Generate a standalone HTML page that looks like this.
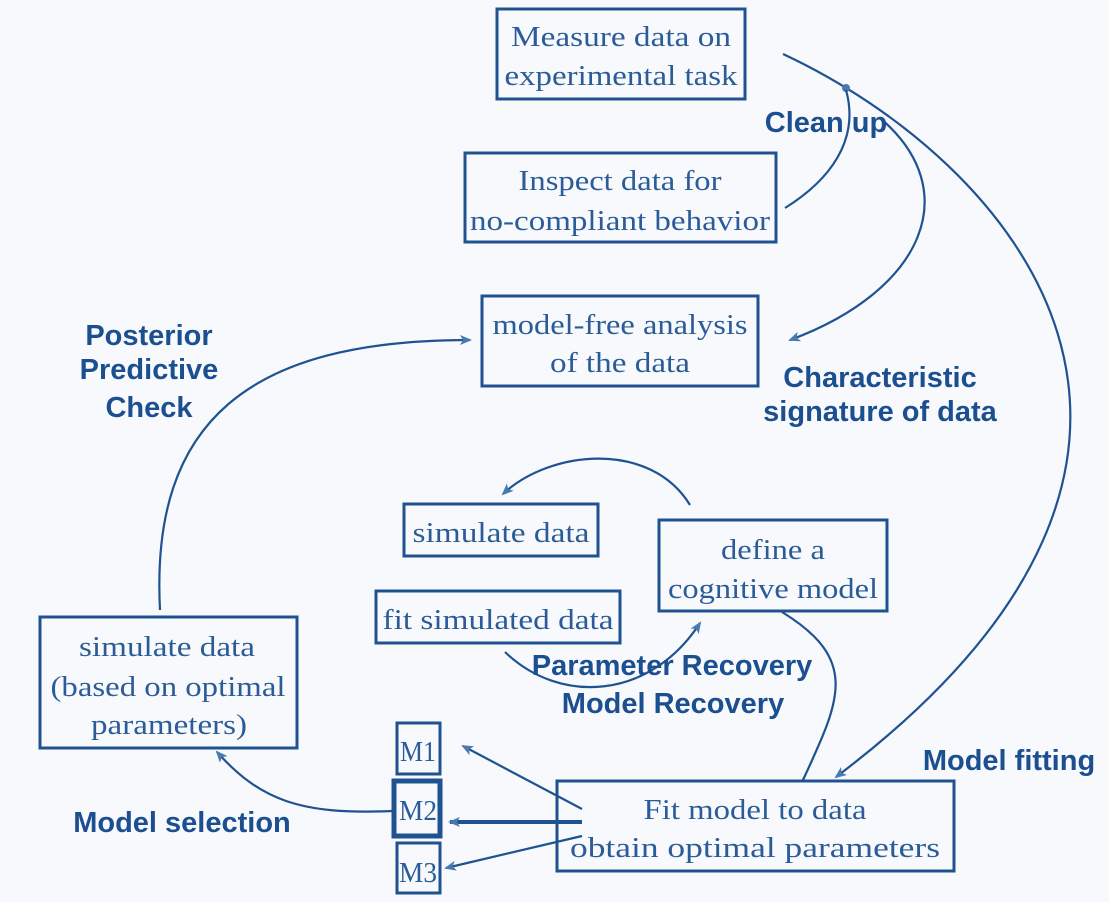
<!DOCTYPE html>
<html><head><meta charset="utf-8"><style>
html,body{margin:0;padding:0;background:#f7f9fc;}
svg{display:block}
.s{font-family:"Liberation Serif",serif;font-size:29px;fill:#2b5c98;text-anchor:middle}
.b{font-family:"Liberation Sans",sans-serif;font-size:29px;font-weight:bold;fill:#1b4f8f;text-anchor:middle}
rect{fill:none;stroke:#1f5291;stroke-width:3}
path.c{fill:none;stroke:#1f5291;stroke-width:2.2}
</style></head><body>
<svg width="1109" height="902" viewBox="0 0 1109 902">
<defs><marker id="a" markerWidth="12" markerHeight="10" refX="10" refY="5" orient="auto" markerUnits="userSpaceOnUse"><path d="M0,0 L12,5 L0,10 L3,5z" fill="#4a78b0"/></marker></defs>
<rect x="497" y="9" width="248" height="90"/>
<text class="s" x="621" y="46" textLength="220" lengthAdjust="spacingAndGlyphs">Measure data on</text><text class="s" x="621" y="85" textLength="233" lengthAdjust="spacingAndGlyphs">experimental task</text>
<rect x="465" y="153" width="311" height="89"/>
<text class="s" x="620" y="190" textLength="203" lengthAdjust="spacingAndGlyphs">Inspect data for</text><text class="s" x="620" y="230" textLength="300" lengthAdjust="spacingAndGlyphs">no-compliant behavior</text>
<rect x="482" y="296" width="276" height="90"/>
<text class="s" x="620" y="334" textLength="255" lengthAdjust="spacingAndGlyphs">model-free analysis</text><text class="s" x="620" y="372" textLength="140" lengthAdjust="spacingAndGlyphs">of the data</text>
<rect x="404" y="504" width="194" height="52"/>
<text class="s" x="501" y="542" textLength="177" lengthAdjust="spacingAndGlyphs">simulate data</text>
<rect x="659" y="520" width="228" height="91"/>
<text class="s" x="773" y="559" textLength="104" lengthAdjust="spacingAndGlyphs">define a</text><text class="s" x="773" y="598" textLength="210" lengthAdjust="spacingAndGlyphs">cognitive model</text>
<rect x="376" y="591" width="244" height="52"/>
<text class="s" x="498" y="629" textLength="231" lengthAdjust="spacingAndGlyphs">fit simulated data</text>
<rect x="40" y="617" width="257" height="131"/>
<text class="s" x="167" y="656" textLength="176" lengthAdjust="spacingAndGlyphs">simulate data</text><text class="s" x="168" y="696" textLength="235" lengthAdjust="spacingAndGlyphs">(based on optimal</text><text class="s" x="169" y="734" textLength="156" lengthAdjust="spacingAndGlyphs">parameters)</text>
<rect x="397" y="723" width="43" height="51"/>
<text class="s" x="418" y="761" textLength="36" lengthAdjust="spacingAndGlyphs">M1</text>
<rect x="394" y="781" width="46" height="55" style="stroke-width:5"/>
<text class="s" x="418" y="820" textLength="38" lengthAdjust="spacingAndGlyphs">M2</text>
<rect x="397" y="843" width="43" height="50"/>
<text class="s" x="418" y="882" textLength="38" lengthAdjust="spacingAndGlyphs">M3</text>
<rect x="557" y="781" width="397" height="90"/>
<text class="s" x="755" y="819" textLength="223" lengthAdjust="spacingAndGlyphs">Fit model to data</text><text class="s" x="755" y="857" textLength="370" lengthAdjust="spacingAndGlyphs">obtain optimal parameters</text>

<path class="c" d="M783,54 C1010,160 1270,450 836,777" marker-end="url(#a)"/>
<circle cx="846" cy="88" r="4" fill="#4a78b0"/>
<path class="c" d="M846,90 C860,140 830,180 785,208"/>
<path class="c" d="M880,118 C965,190 925,290 790,340" marker-end="url(#a)"/>
<path class="c" d="M160,610 C150,420 250,340 470,340" marker-end="url(#a)"/>
<path class="c" d="M690,505 C650,440 550,450 503,494" marker-end="url(#a)"/>
<path class="c" d="M505,652 C560,705 650,700 700,623" marker-end="url(#a)"/>
<path class="c" d="M782,612 C860,660 840,700 803,780"/>
<path class="c" d="M582,809 L463,746" marker-end="url(#a)"/>
<path class="c" d="M582,822 L450,822" style="stroke-width:4" marker-end="url(#a)"/>
<path class="c" d="M582,836 L446,868" marker-end="url(#a)"/>
<path class="c" d="M392,811 C300,815 260,800 217,752" marker-end="url(#a)"/>

<text class="b" x="826" y="132">Clean up</text>
<text class="b" x="149" y="345">Posterior</text><text class="b" x="149" y="379">Predictive</text><text class="b" x="149" y="417">Check</text>
<text class="b" x="880" y="387">Characteristic</text><text class="b" x="880" y="421">signature of data</text>
<text class="b" x="672" y="675">Parameter Recovery</text><text class="b" x="673" y="713">Model Recovery</text>
<text class="b" x="1009" y="770">Model fitting</text>
<text class="b" x="182" y="832">Model selection</text>
</svg>
</body></html>
